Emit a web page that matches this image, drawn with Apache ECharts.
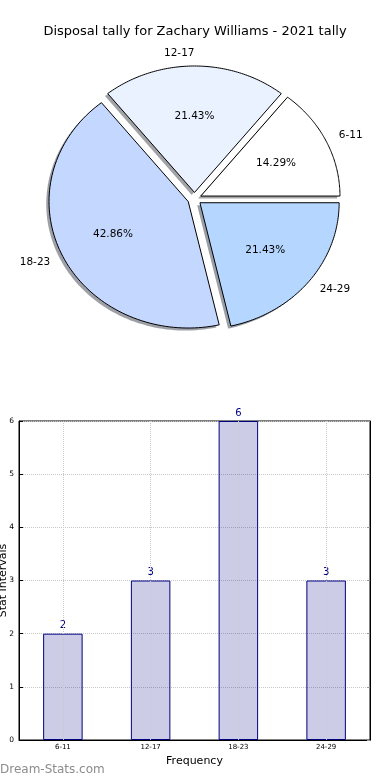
<!DOCTYPE html>
<html><head><meta charset="utf-8">
<script src="https://cdn.jsdelivr.net/npm/echarts@6/dist/echarts.min.js"></script>
<style>html,body{margin:0;padding:0;background:#fff}#c{width:390px;height:780px}</style>
</head><body><div id="c"></div>
<script>
const categories = ['6-11', '12-17', '18-23', '24-29'];
const counts = [2, 3, 6, 3];
const pieColors = ['#ffffff', '#eaf1ff', '#c4d8ff', '#b4d6ff'];
const yTicks = [0, 1, 2, 3, 4, 5, 6];
const titleText = 'Disposal tally for Zachary Williams - 2021 tally';
const xAxisName = 'Frequency';
const yAxisName = 'Stat Intervals';
const watermark = 'Dream-Stats.com';
const explode = 0.05;

const FONT = 'DejaVu Sans';
const total = counts.reduce((a, b) => a + b, 0);
const fracStart = [];
let acc = 0;
counts.forEach(v => { fracStart.push(acc); acc += v / total; });

function geom(i) {
  const t1 = fracStart[i] * 2 * Math.PI;
  const t2 = (fracStart[i] + counts[i] / total) * 2 * Math.PI;
  const tm = (t1 + t2) / 2;
  return { t1, t2, tm, cx: explode * Math.cos(tm), cy: explode * Math.sin(tm) };
}
function wedgePts(api, i, ox, oy) {
  const g = geom(i);
  const pts = [api.coord([g.cx + ox, g.cy + oy])];
  const n = 90;
  for (let k = 0; k <= n; k++) {
    const t = g.t1 + (g.t2 - g.t1) * k / n;
    pts.push(api.coord([g.cx + ox + Math.cos(t), g.cy + oy + Math.sin(t)]));
  }
  return pts;
}
function shade(hex) {
  const r = parseInt(hex.slice(1, 3), 16), gg = parseInt(hex.slice(3, 5), 16), b = parseInt(hex.slice(5, 7), 16);
  return 'rgba(' + Math.round(r * 0.3) + ',' + Math.round(gg * 0.3) + ',' + Math.round(b * 0.3) + ',0.5)';
}
const pieData = counts.map((v, i) => [i, v]);

const chart = echarts.init(document.getElementById('c'), null, { renderer: 'canvas' });
chart.setOption({
  animation: false,
  title: {
    text: titleText, left: 'center', top: 20,
    textStyle: { fontFamily: FONT, fontSize: 13, fontWeight: 'normal', color: '#000' }
  },
  graphic: [{
    type: 'text', left: 0, top: 764,
    style: { text: watermark, fontFamily: FONT, fontSize: 12, fontWeight: 'normal', fill: '#8c8c8c' }
  }],
  grid: [
    { left: 20.5, right: 21.5, top: 40.7, height: 316.2, show: false, outerBoundsMode: 'none', containLabel: false },
    { left: 19, right: 20, top: 421, bottom: 40, show: true, borderColor: '#000', borderWidth: 1, backgroundColor: 'transparent', outerBoundsMode: 'none', containLabel: false }
  ],
  xAxis: [
    { gridIndex: 0, type: 'value', min: -1.25, max: 1.25, show: false },
    {
      gridIndex: 1, type: 'category', data: categories, position: 'bottom',
      axisLine: { lineStyle: { color: '#000', width: 1 } },
      axisTick: { inside: true, alignWithLabel: true, length: 4, lineStyle: { color: '#000' } },
      axisLabel: { fontFamily: FONT, fontSize: 7, color: '#000', margin: 4 },
      splitLine: { show: false },
      name: xAxisName, nameLocation: 'middle', nameGap: 16, nameMoveOverlap: false,
      nameTextStyle: { fontFamily: FONT, fontSize: 11, color: '#000' }
    }
  ],
  yAxis: [
    { gridIndex: 0, type: 'value', min: -1.25, max: 1.25, show: false },
    {
      gridIndex: 1, type: 'value', min: yTicks[0], max: yTicks[yTicks.length - 1], interval: 1,
      axisLine: { show: true, lineStyle: { color: '#000', width: 1 } },
      axisTick: { show: true, inside: true, length: 4, lineStyle: { color: '#000' } },
      axisLabel: { fontFamily: FONT, fontSize: 7.5, color: '#000', margin: 5 },
      splitLine: { show: true, lineStyle: { type: 'dotted', color: '#c8c8c8', width: 1 } },
      name: yAxisName, nameLocation: 'middle', nameGap: 10, nameRotate: 90, nameMoveOverlap: false,
      nameTextStyle: { fontFamily: FONT, fontSize: 11, color: '#000' }
    },
    {
      gridIndex: 1, type: 'value', position: 'right', min: yTicks[0], max: yTicks[yTicks.length - 1], interval: 1,
      axisLine: { show: true, lineStyle: { color: '#000', width: 1 } },
      axisTick: { show: true, inside: true, length: 3, lineStyle: { color: '#999' } },
      axisLabel: { show: false }, splitLine: { show: false }
    }
  ],
  series: [
    {
      type: 'custom', xAxisIndex: 0, yAxisIndex: 0, z: 1, silent: true, data: pieData,
      renderItem: function (params, api) {
        const i = params.dataIndex;
        return { type: 'polygon', shape: { points: wedgePts(api, i, -0.02, -0.02) }, style: { fill: shade(pieColors[i]), stroke: 'none' } };
      }
    },
    {
      type: 'custom', xAxisIndex: 0, yAxisIndex: 0, z: 2, silent: true, data: pieData,
      renderItem: function (params, api) {
        const i = params.dataIndex;
        return { type: 'polygon', shape: { points: wedgePts(api, i, 0, 0) }, style: { fill: pieColors[i], stroke: '#000', lineWidth: 1 } };
      }
    },
    {
      type: 'custom', xAxisIndex: 0, yAxisIndex: 0, z: 3, silent: true, data: pieData,
      renderItem: function (params, api) {
        const i = params.dataIndex;
        const g = geom(i);
        const xt = g.cx + 1.1 * Math.cos(g.tm), yt = g.cy + 1.1 * Math.sin(g.tm);
        const pl = api.coord([xt, yt]);
        const pp = api.coord([g.cx + 0.6 * Math.cos(g.tm), g.cy + 0.6 * Math.sin(g.tm)]);
        const pct = (api.value(1) / total * 100).toFixed(2) + '%';
        return {
          type: 'group', children: [
            { type: 'text', x: pl[0], y: pl[1], style: { text: categories[i], fontFamily: FONT, fontSize: 10.5, fill: '#000', align: xt > 1e-6 ? 'left' : 'right', verticalAlign: 'middle' } },
            { type: 'text', x: pp[0], y: pp[1], style: { text: pct, fontFamily: FONT, fontSize: 10.5, fill: '#000', align: 'center', verticalAlign: 'middle' } }
          ]
        };
      }
    },
    {
      type: 'bar', xAxisIndex: 1, yAxisIndex: 1, data: counts, barWidth: '45%',
      itemStyle: { color: 'rgba(0,0,128,0.2)', borderColor: '#000080', borderWidth: 1 },
      label: { show: true, position: 'top', distance: 3, color: '#000080', fontFamily: FONT, fontSize: 10 },
      markLine: {
        silent: true, symbol: 'none', label: { show: false },
        lineStyle: { type: 'dotted', color: '#c8c8c8', width: 1 },
        data: categories.map(c => ({ xAxis: c }))
      }
    }
  ]
});
</script>
</body></html>
